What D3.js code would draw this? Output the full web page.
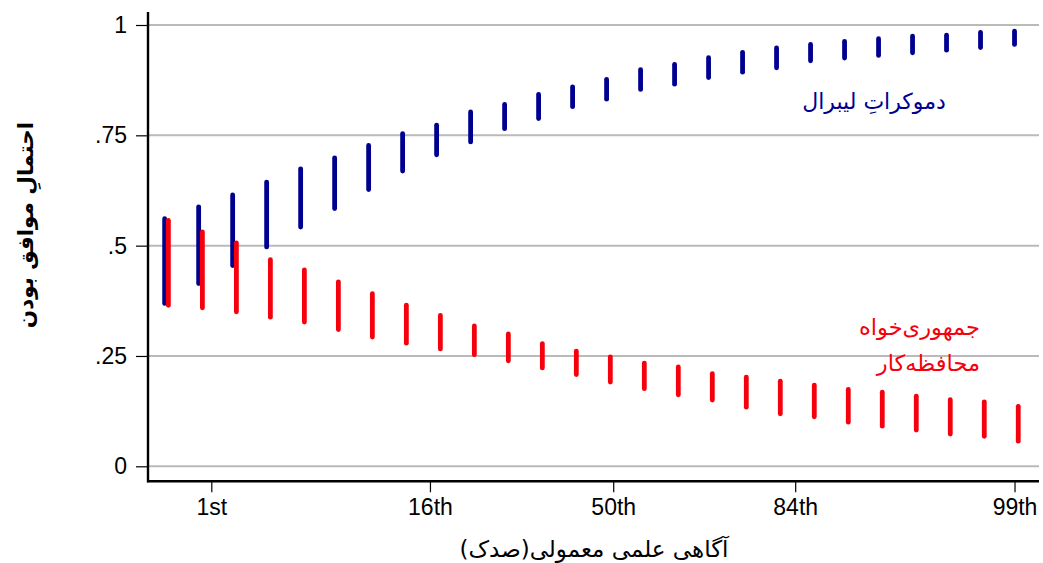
<!DOCTYPE html>
<html lang="fa">
<head>
<meta charset="utf-8">
<title>احتمال موافق بودن</title>
<script src="https://d3js.org/d3.v7.min.js"></script>
<style>
  html, body { margin: 0; padding: 0; background: #fff; }
  svg { display: block; }
  .tick-label { font-family: "Liberation Sans", Arial, sans-serif; font-size: 23px; fill: #000; }
  .fa { font-family: "DejaVu Sans", sans-serif; }
</style>
</head>
<body>
<div id="chart"></div>
<script>
// position of each bar along the science-literacy axis (bar index units)
var xVals = [0, 1, 2, 3, 4, 5, 6, 7, 8, 9, 10, 11, 12, 13, 14, 15, 16, 17, 18, 19, 20, 21, 22, 23, 24, 25];

// liberal democrats: confidence interval
var demLow  = [0.369, 0.414, 0.455, 0.497, 0.542, 0.584, 0.627, 0.669, 0.706, 0.735, 0.765, 0.788, 0.815,
               0.832, 0.854, 0.866, 0.881, 0.893, 0.903, 0.919, 0.925, 0.931, 0.937, 0.943, 0.949, 0.956];
var demHigh = [0.561, 0.588, 0.615, 0.644, 0.674, 0.699, 0.727, 0.754, 0.773, 0.803, 0.820, 0.843, 0.860,
               0.877, 0.899, 0.911, 0.926, 0.938, 0.948, 0.956, 0.963, 0.969, 0.975, 0.977, 0.983, 0.986];

// conservative republicans: confidence interval
var repLow  = [0.365, 0.359, 0.350, 0.338, 0.327, 0.310, 0.293, 0.279, 0.266, 0.253, 0.239, 0.223, 0.208,
               0.191, 0.176, 0.162, 0.150, 0.134, 0.119, 0.112, 0.100, 0.091, 0.082, 0.073, 0.068, 0.057];
var repHigh = [0.557, 0.531, 0.506, 0.468, 0.445, 0.418, 0.391, 0.365, 0.342, 0.318, 0.300, 0.278, 0.261,
               0.248, 0.234, 0.225, 0.210, 0.202, 0.193, 0.184, 0.174, 0.168, 0.159, 0.151, 0.146, 0.136];

// x axis ticks (percentiles) and y axis ticks
var xTickVals   = [1.372, 7.804, 13.195, 18.548, 25.0];
var xTickLabels = ["1st", "16th", "50th", "84th", "99th"];
var yTickVals   = [0, 0.25, 0.5, 0.75, 1];
var yTickLabels = ["0", ".25", ".5", ".75", "1"];

var width = 1043, height = 563;
var plotLeft = 148, plotRight = 1039, plotTop = 25, plotBottom = 466.3, axisY = 481.3;
var repShift = 0.11;

var svg = d3.select("#chart").append("svg")
    .attr("width", width)
    .attr("height", height);

var x = d3.scaleLinear().domain([-0.49, 25.72]).range([plotLeft, plotRight]);
var y = d3.scaleLinear().domain([0, 1]).range([plotBottom, plotTop]);

// grid lines
svg.append("g")
  .selectAll("line")
  .data(yTickVals)
  .enter().append("line")
    .attr("x1", plotLeft).attr("x2", plotRight)
    .attr("y1", function(d) { return y(d); })
    .attr("y2", function(d) { return y(d); })
    .attr("stroke", "#bababa")
    .attr("stroke-width", 2);

// y axis
var yAxis = d3.axisLeft(y)
    .tickValues(yTickVals)
    .tickFormat(function(d, i) { return yTickLabels[i]; })
    .tickSize(12)
    .tickPadding(9);

var gy = svg.append("g")
    .attr("transform", "translate(" + plotLeft + ",0)")
    .call(yAxis);
gy.select(".domain").remove();
gy.selectAll(".tick line").attr("stroke", "#000").attr("stroke-width", 1.2);
gy.selectAll(".tick text").attr("class", "tick-label").attr("font-family", null).attr("font-size", null);

svg.append("line")
    .attr("x1", plotLeft).attr("x2", plotLeft)
    .attr("y1", 12).attr("y2", axisY + 1)
    .attr("stroke", "#000").attr("stroke-width", 2.4);

// x axis
var xAxis = d3.axisBottom(x)
    .tickValues(xTickVals)
    .tickFormat(function(d, i) { return xTickLabels[i]; })
    .tickSize(11)
    .tickPadding(6);

var gx = svg.append("g")
    .attr("transform", "translate(0," + axisY + ")")
    .call(xAxis);
gx.select(".domain").remove();
gx.selectAll(".tick line").attr("stroke", "#000").attr("stroke-width", 1.2);
gx.selectAll(".tick text").attr("class", "tick-label").attr("font-family", null).attr("font-size", null);

svg.append("line")
    .attr("x1", plotLeft - 1).attr("x2", plotRight)
    .attr("y1", axisY).attr("y2", axisY)
    .attr("stroke", "#000").attr("stroke-width", 2.4);

// range bars
function drawBars(lo, hi, shift, color) {
  svg.append("g")
    .selectAll("line")
    .data(xVals)
    .enter().append("line")
      .attr("x1", function(d) { return x(d + shift); })
      .attr("x2", function(d) { return x(d + shift); })
      .attr("y1", function(d, i) { return y(lo[i]); })
      .attr("y2", function(d, i) { return y(hi[i]); })
      .attr("stroke", color)
      .attr("stroke-width", 4.8)
      .attr("stroke-linecap", "round");
}
drawBars(demLow, demHigh, 0, "#000090");
drawBars(repLow, repHigh, repShift, "#f5000c");

// series labels
svg.append("text")
    .attr("class", "fa")
    .attr("x", 874).attr("y", 109)
    .attr("text-anchor", "middle")
    .attr("font-size", 22)
    .attr("fill", "#000090")
    .text("دموکراتِ لیبرال");

svg.append("text")
    .attr("class", "fa")
    .attr("x", 980).attr("y", 335)
    .attr("text-anchor", "end")
    .attr("font-size", 22.5)
    .attr("fill", "#f5000c")
    .text("جمهوری\u200cخواه");

svg.append("text")
    .attr("class", "fa")
    .attr("x", 980).attr("y", 371)
    .attr("text-anchor", "end")
    .attr("font-size", 22.5)
    .attr("fill", "#f5000c")
    .text("محافظه\u200cکار");

// axis titles
svg.append("text")
    .attr("class", "fa")
    .attr("transform", "translate(33,225) rotate(-90)")
    .attr("text-anchor", "middle")
    .attr("font-size", 21.5)
    .attr("font-weight", "bold")
    .text("احتمالِ موافق بودن");

svg.append("text")
    .attr("class", "fa")
    .attr("x", 594).attr("y", 557)
    .attr("text-anchor", "middle")
    .attr("font-size", 23)
    .text("آگاهی علمی معمولی(صدک)");
</script>
</body>
</html>
